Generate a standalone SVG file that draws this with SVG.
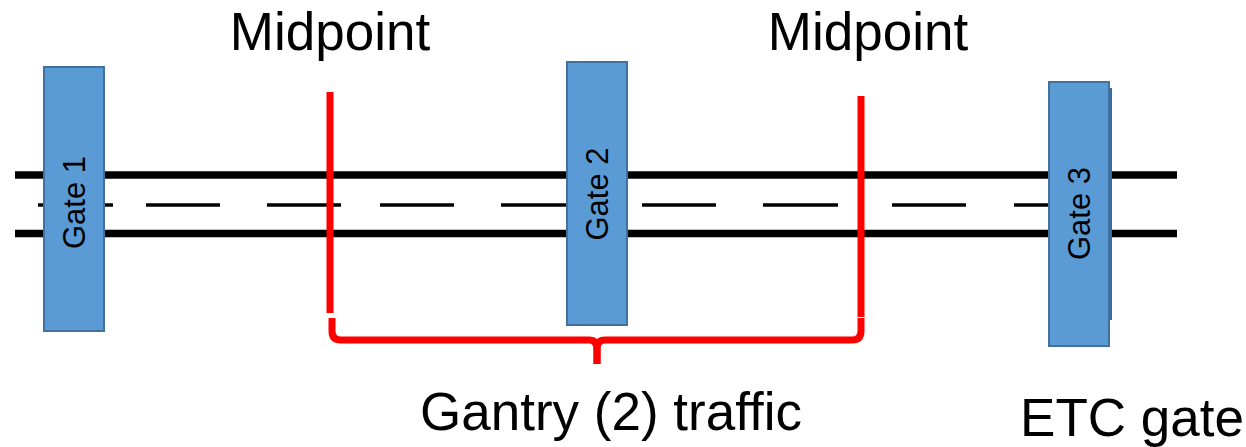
<svg xmlns="http://www.w3.org/2000/svg" width="1246" height="447" viewBox="0 0 1246 447">
<style>
.road{stroke:#000;stroke-width:7.5;fill:none}
.dash{stroke:#000;stroke-width:3.5;fill:none}
.gate{fill:#5b9bd5;stroke:#41719c;stroke-width:2}
.glabel{font-family:"Liberation Sans",Arial,sans-serif;font-size:31px;fill:#000;text-anchor:middle}
.big{font-family:"Liberation Sans",Arial,sans-serif;font-size:53px;fill:#000;text-anchor:middle}
.red{stroke:#ff0000;stroke-width:7;fill:none;stroke-linejoin:round}
</style>
<rect width="1246" height="447" fill="#fff"/>
<g id="road">
<line class="road" x1="15" y1="175" x2="1177" y2="175"/>
<line class="road" x1="15" y1="233.5" x2="1177" y2="233.5"/>
<g class="dash">
<line x1="38" y1="205" x2="113" y2="205"/>
<line x1="146" y1="205" x2="220" y2="205"/>
<line x1="267" y1="205" x2="341" y2="205"/>
<line x1="380" y1="205" x2="454" y2="205"/>
<line x1="501" y1="205" x2="575" y2="205"/>
<line x1="642" y1="205" x2="716" y2="205"/>
<line x1="763" y1="205" x2="838" y2="205"/>
<line x1="892" y1="205" x2="966" y2="205"/>
<line x1="1014" y1="205" x2="1088" y2="205"/>
</g>
</g>
<g id="connectors">
<line class="red" x1="330" y1="92" x2="330" y2="313"/>
<line class="red" x1="861" y1="96" x2="861" y2="317"/>
<path class="red" d="M332 318 L332 331 Q332 340 341 340 L589 340 Q597 340 597 349 L597 364"/>
<path class="red" d="M861 318 L861 331 Q861 340 852 340 L605 340 Q597 340 597 349 L597 364"/>
</g>
<g id="gate1">
<rect class="gate" x="44" y="67" width="60" height="264"/>
<text class="glabel" transform="translate(85,202.5) rotate(-90)">Gate 1</text>
</g>
<g id="gate2">
<rect class="gate" x="567" y="62" width="60" height="263"/>
<text class="glabel" transform="translate(608,194) rotate(-90)">Gate 2</text>
</g>
<g id="gate3">
<rect x="1052" y="88" width="60" height="232" fill="#3a6d9e"/>
<rect class="gate" x="1049" y="82" width="60" height="264"/>
<text class="glabel" transform="translate(1090,213.5) rotate(-90)">Gate 3</text>
</g>
<g id="labels">
<text class="big" x="330" y="50">Midpoint</text>
<text class="big" x="868" y="50">Midpoint</text>
<text class="big" x="611" y="430">Gantry (2) traffic</text>
<text class="big" x="1132" y="436">ETC gate</text>
</g>
</svg>
